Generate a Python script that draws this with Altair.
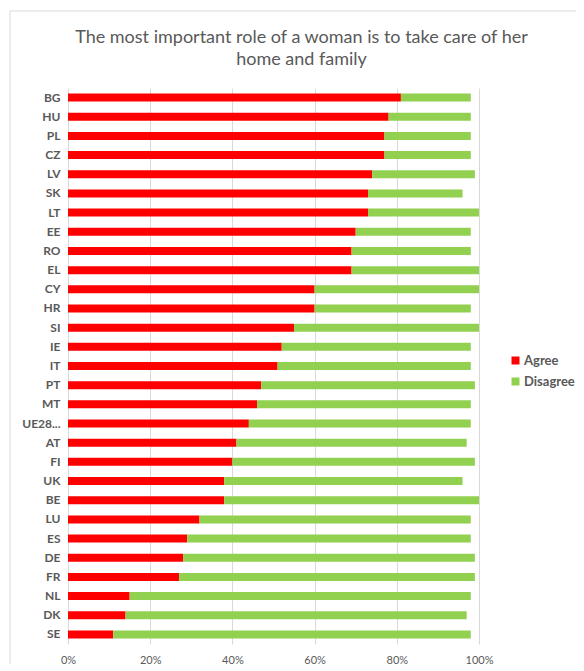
import altair as alt
import pandas as pd

countries = ["BG","HU","PL","CZ","LV","SK","LT","EE","RO","EL","CY","HR","SI","IE","IT",
             "PT","MT","UE28...","AT","FI","UK","BE","LU","ES","DE","FR","NL","DK","SE"]
agree = [81,78,77,77,74,73,73,70,69,69,60,60,55,52,51,47,46,44,41,40,38,38,32,29,28,27,15,14,11]
total = [98,98,98,98,99,96,100,98,98,100,100,98,100,98,98,99,98,98,97,99,96,100,98,98,99,99,98,97,98]
disagree = [t - a for t, a in zip(total, agree)]
series = ["Agree", "Disagree"]
colors = ["#FF0000", "#92D050"]

rows = []
for c, a, d in zip(countries, agree, disagree):
    rows.append({"country": c, "series": "Agree", "value": a / 100, "ord": 0})
    rows.append({"country": c, "series": "Disagree", "value": d / 100, "ord": 1})
df = pd.DataFrame(rows)

FONT = "Lato"
GREY = "#595959"

bars = alt.Chart(df).mark_bar(size=8).encode(
    y=alt.Y("country:N", sort=countries, title=None,
            axis=alt.Axis(domain=False, ticks=False, labelFontWeight="bold",
                          labelFontSize=12, labelColor=GREY, labelFont=FONT,
                          labelPadding=8, labelLimit=60)),
    x=alt.X("value:Q", stack="zero", title=None,
            scale=alt.Scale(domain=[0, 1], nice=False),
            axis=alt.Axis(format="%", values=[0, 0.2, 0.4, 0.6, 0.8, 1.0],
                          domain=False, ticks=False, grid=True, gridColor="#d9d9d9",
                          labelFontSize=11, labelColor=GREY, labelFont=FONT,
                          labelPadding=10, labelFlush=False)),
    color=alt.Color("series:N", scale=alt.Scale(domain=series, range=colors),
                    legend=alt.Legend(title=None, orient="none", legendX=441, legendY=266,
                                      symbolType="square", symbolSize=64,
                                      labelFontSize=13, labelFontWeight="bold",
                                      labelColor=GREY, labelFont=FONT, rowPadding=7,
                                      labelOffset=2, labelLimit=200, symbolStrokeWidth=0)),
    order=alt.Order("ord:Q"),
)

frame = alt.Chart(pd.DataFrame({"k": [0]})).mark_rect(
    fill=None, stroke="#d9d9d9", strokeWidth=1
).encode(x=alt.value(-58), x2=alt.value(620), y=alt.value(-77), y2=alt.value(700))

chart = alt.layer(frame, bars).properties(
    width=411, height=556,
    title=alt.TitleParams(
        text=["The most important role of a woman is to take care of her", "home and family"],
        fontSize=18, font=FONT, fontWeight="normal", color=GREY, anchor="middle",
        offset=-58, lineHeight=22, dx=28),
    autosize=alt.AutoSizeParams(type="none"),
    padding={"left": 60, "top": 80, "right": 97, "bottom": 20},
).configure_view(stroke=None).configure_scale(bandPaddingInner=0.58)

chart.save("out.html", embed_options={"renderer": "svg", "actions": False})
